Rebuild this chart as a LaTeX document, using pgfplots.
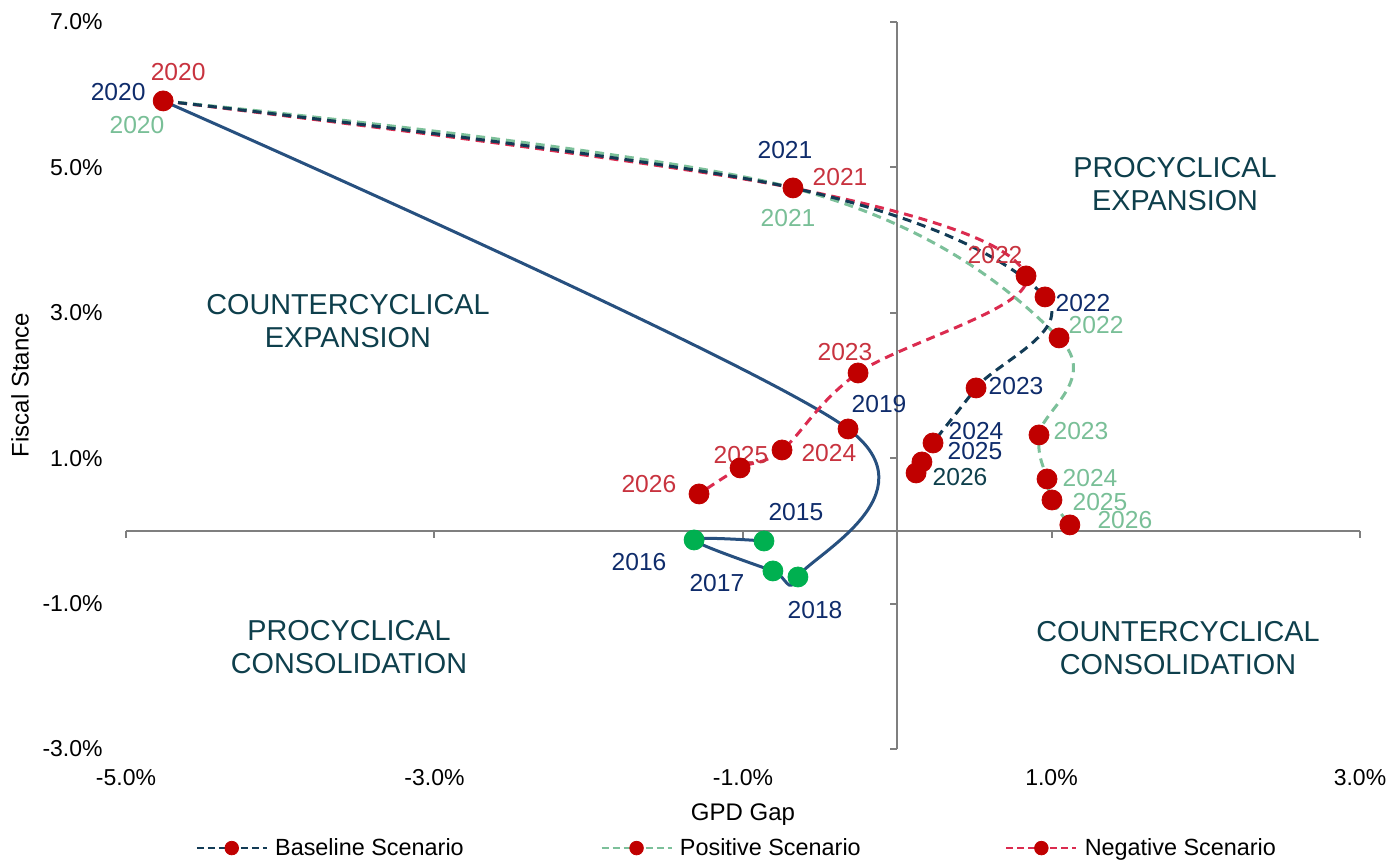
\documentclass[border=0pt]{standalone}
\usepackage{pgfplots}
\pgfplotsset{compat=1.18}
\usepackage{fontspec}
\setmainfont{Liberation Sans}
\definecolor{histline}{HTML}{27507F}
\definecolor{basecol}{HTML}{123B55}
\definecolor{poscol}{HTML}{7CC09A}
\definecolor{negcol}{HTML}{DB2B4F}
\definecolor{markred}{HTML}{C00000}
\definecolor{markgreen}{HTML}{00B050}
\definecolor{labnavy}{HTML}{0F2C6B}
\definecolor{labred}{HTML}{C8333F}
\definecolor{labgreen}{HTML}{79BF97}
\definecolor{labteal}{HTML}{0E3F4C}
\definecolor{axgray}{HTML}{7F7F7F}
\begin{document}
\begin{tikzpicture}[
  lbl/.style={font=\fontsize{12.3bp}{14bp}\selectfont, inner sep=0pt, anchor=center},
  quad/.style={font=\fontsize{14.4bp}{16.5bp}\selectfont, inner sep=0pt, anchor=center, align=center, text=labteal}]
\begin{axis}[
  scale only axis,
  width=617bp, height=363.5bp,
  xmin=-5, xmax=3, ymin=-3, ymax=7,
  axis line style={draw=none},
  major tick length=0pt,
  xtick={-5,-3,-1,1,3},
  xticklabels={-5.0\%,-3.0\%,-1.0\%,1.0\%,3.0\%},
  ytick={-3,-1,1,3,5,7},
  yticklabels={-3.0\%,-1.0\%,1.0\%,3.0\%,5.0\%,7.0\%},
  tick label style={font=\fontsize{11.5bp}{13bp}\selectfont, inner sep=0pt},
  xticklabel style={anchor=center, yshift=-14.5bp},
  yticklabel style={anchor=east, xshift=-11.5bp},
  xlabel={GPD Gap},
  ylabel={Fiscal Stance},
  label style={font=\fontsize{12bp}{14bp}\selectfont},
  xlabel style={at={(axis description cs:0.5,-0.0908)}, anchor=center, inner sep=0pt},
  ylabel style={at={(axis description cs:-0.0859,0.5007)}, anchor=center, inner sep=0pt},
  clip=false,
  legend columns=3,
  legend cell align=left,
  legend style={at={(axis description cs:0.0559,-0.1362)}, anchor=west, draw=none, fill=none,
    inner sep=0pt, font=\fontsize{11.7bp}{14bp}\selectfont, nodes={inner sep=0pt},
    /tikz/every odd column/.append style={column sep=3.5bp},
    /tikz/every even column/.append style={column sep=66.5bp}},
  legend image code/.code={
    \draw[#1, line width=1.4bp, dash pattern=on 3.5bp off 2bp] (0bp,0bp) -- (35bp,0bp);
    \fill[markred] (17.5bp,0bp) circle (3.4bp);
  },
]
% bounding box
\path (rel axis cs:-0.1021,-0.1541) rectangle (rel axis cs:1.0243,1.0303);
% zero axes
\draw[axgray, line width=1bp] (axis cs:-5,0) -- (axis cs:3,0);
\draw[axgray, line width=1bp] (axis cs:0,-3) -- (axis cs:0,7);
\pgfplotsinvokeforeach{-5,-3,-1,1,3}{\draw[axgray, line width=1bp] (axis cs:#1,0) -- ([yshift=-3.5bp]axis cs:#1,0);}
\pgfplotsinvokeforeach{-3,-1,1,3,5,7}{\draw[axgray, line width=1bp] (axis cs:0,#1) -- ([xshift=-3.5bp]axis cs:0,#1);}

% historical
\addplot[histline, line width=1.5bp, smooth, tension=0.5, forget plot] coordinates {
(-0.864,-0.138) (-1.317,-0.124) (-0.806,-0.550) (-0.644,-0.633) (-0.319,1.403) (-4.759,5.915)};

% negative
\addplot[negcol, line width=1.5bp, dash pattern=on 4.5bp off 3bp, smooth, tension=0.6, forget plot] coordinates {
(-4.759,5.915) (-0.676,4.718) (0.835,3.508) (-0.254,2.173) (-0.747,1.114) (-1.019,0.867) (-1.285,0.509)};
% positive
\addplot[poscol, line width=1.5bp, dash pattern=on 4.5bp off 3bp, smooth, tension=0.6, forget plot] coordinates {
(-4.759,5.915) (-0.676,4.718) (1.049,2.655) (0.919,1.321) (0.971,0.715) (1.003,0.426) (1.119,0.083)};
% baseline
\addplot[basecol, line width=1.5bp, dash pattern=on 4.5bp off 3bp, smooth, tension=0.6, forget plot] coordinates {
(-4.759,5.915) (-0.676,4.718) (0.958,3.219) (0.511,1.967) (0.232,1.210) (0.160,0.949) (0.122,0.798)};

% markers
\addplot[only marks, mark=*, mark size=5bp, mark options={fill=markgreen, draw=markgreen}, forget plot] coordinates {
(-0.864,-0.138) (-1.317,-0.124) (-0.806,-0.550) (-0.644,-0.633)};
\addplot[only marks, mark=*, mark size=5bp, mark options={fill=markred, draw=markred}, forget plot] coordinates {
(-0.319,1.403) (-4.759,5.915) (-0.676,4.718)
(0.835,3.508) (-0.254,2.173) (-0.747,1.114) (-1.019,0.867) (-1.285,0.509)
(1.049,2.655) (0.919,1.321) (0.971,0.715) (1.003,0.426) (1.119,0.083)
(0.958,3.219) (0.511,1.967) (0.232,1.210) (0.160,0.949) (0.122,0.798)};

% legend entries
\addlegendimage{basecol}
\addlegendentry{\makebox[96bp][l]{Baseline Scenario}}
\addlegendimage{poscol}
\addlegendentry{\makebox[96bp][l]{Positive Scenario}}
\addlegendimage{negcol}
\addlegendentry{Negative Scenario}

% year labels
\node[lbl, text=labnavy] at (axis cs:-5.051,6.039) {2020};
\node[lbl, text=labred] at (axis cs:-4.662,6.314) {2020};
\node[lbl, text=labgreen] at (axis cs:-4.929,5.585) {2020};
\node[lbl, text=labnavy] at (axis cs:-0.728,5.241) {2021};
\node[lbl, text=labred] at (axis cs:-0.371,4.869) {2021};
\node[lbl, text=labgreen] at (axis cs:-0.708,4.305) {2021};
\node[lbl, text=labred] at (axis cs:0.634,3.796) {2022};
\node[lbl, text=labnavy] at (axis cs:1.204,3.136) {2022};
\node[lbl, text=labgreen] at (axis cs:1.289,2.834) {2022};
\node[lbl, text=labred] at (axis cs:-0.339,2.462) {2023};
\node[lbl, text=labnavy] at (axis cs:0.770,1.994) {2023};
\node[lbl, text=labgreen] at (axis cs:1.191,1.375) {2023};
\node[lbl, text=labnavy] at (axis cs:0.511,1.375) {2024};
\node[lbl, text=labnavy] at (axis cs:0.504,1.100) {2025};
\node[lbl, text=labteal] at (axis cs:0.407,0.743) {2026};
\node[lbl, text=labgreen] at (axis cs:1.250,0.729) {2024};
\node[lbl, text=labgreen] at (axis cs:1.314,0.399) {2025};
\node[lbl, text=labgreen] at (axis cs:1.476,0.151) {2026};
\node[lbl, text=labred] at (axis cs:-0.443,1.073) {2024};
\node[lbl, text=labred] at (axis cs:-1.013,1.045) {2025};
\node[lbl, text=labred] at (axis cs:-1.610,0.646) {2026};
\node[lbl, text=labnavy] at (axis cs:-0.118,1.747) {2019};
\node[lbl, text=labnavy] at (axis cs:-0.657,0.261) {2015};
\node[lbl, text=labnavy] at (axis cs:-1.674,-0.426) {2016};
\node[lbl, text=labnavy] at (axis cs:-1.169,-0.715) {2017};
\node[lbl, text=labnavy] at (axis cs:-0.533,-1.087) {2018};

% quadrant labels
\node[quad] at (axis cs:-3.561,2.882) {COUNTERCYCLICAL\\EXPANSION};
\node[quad] at (axis cs:1.801,4.766) {PROCYCLICAL\\EXPANSION};
\node[quad] at (axis cs:-3.554,-1.596) {PROCYCLICAL\\CONSOLIDATION};
\node[quad] at (axis cs:1.820,-1.609) {COUNTERCYCLICAL\\CONSOLIDATION};
\end{axis}
\end{tikzpicture}
\end{document}
